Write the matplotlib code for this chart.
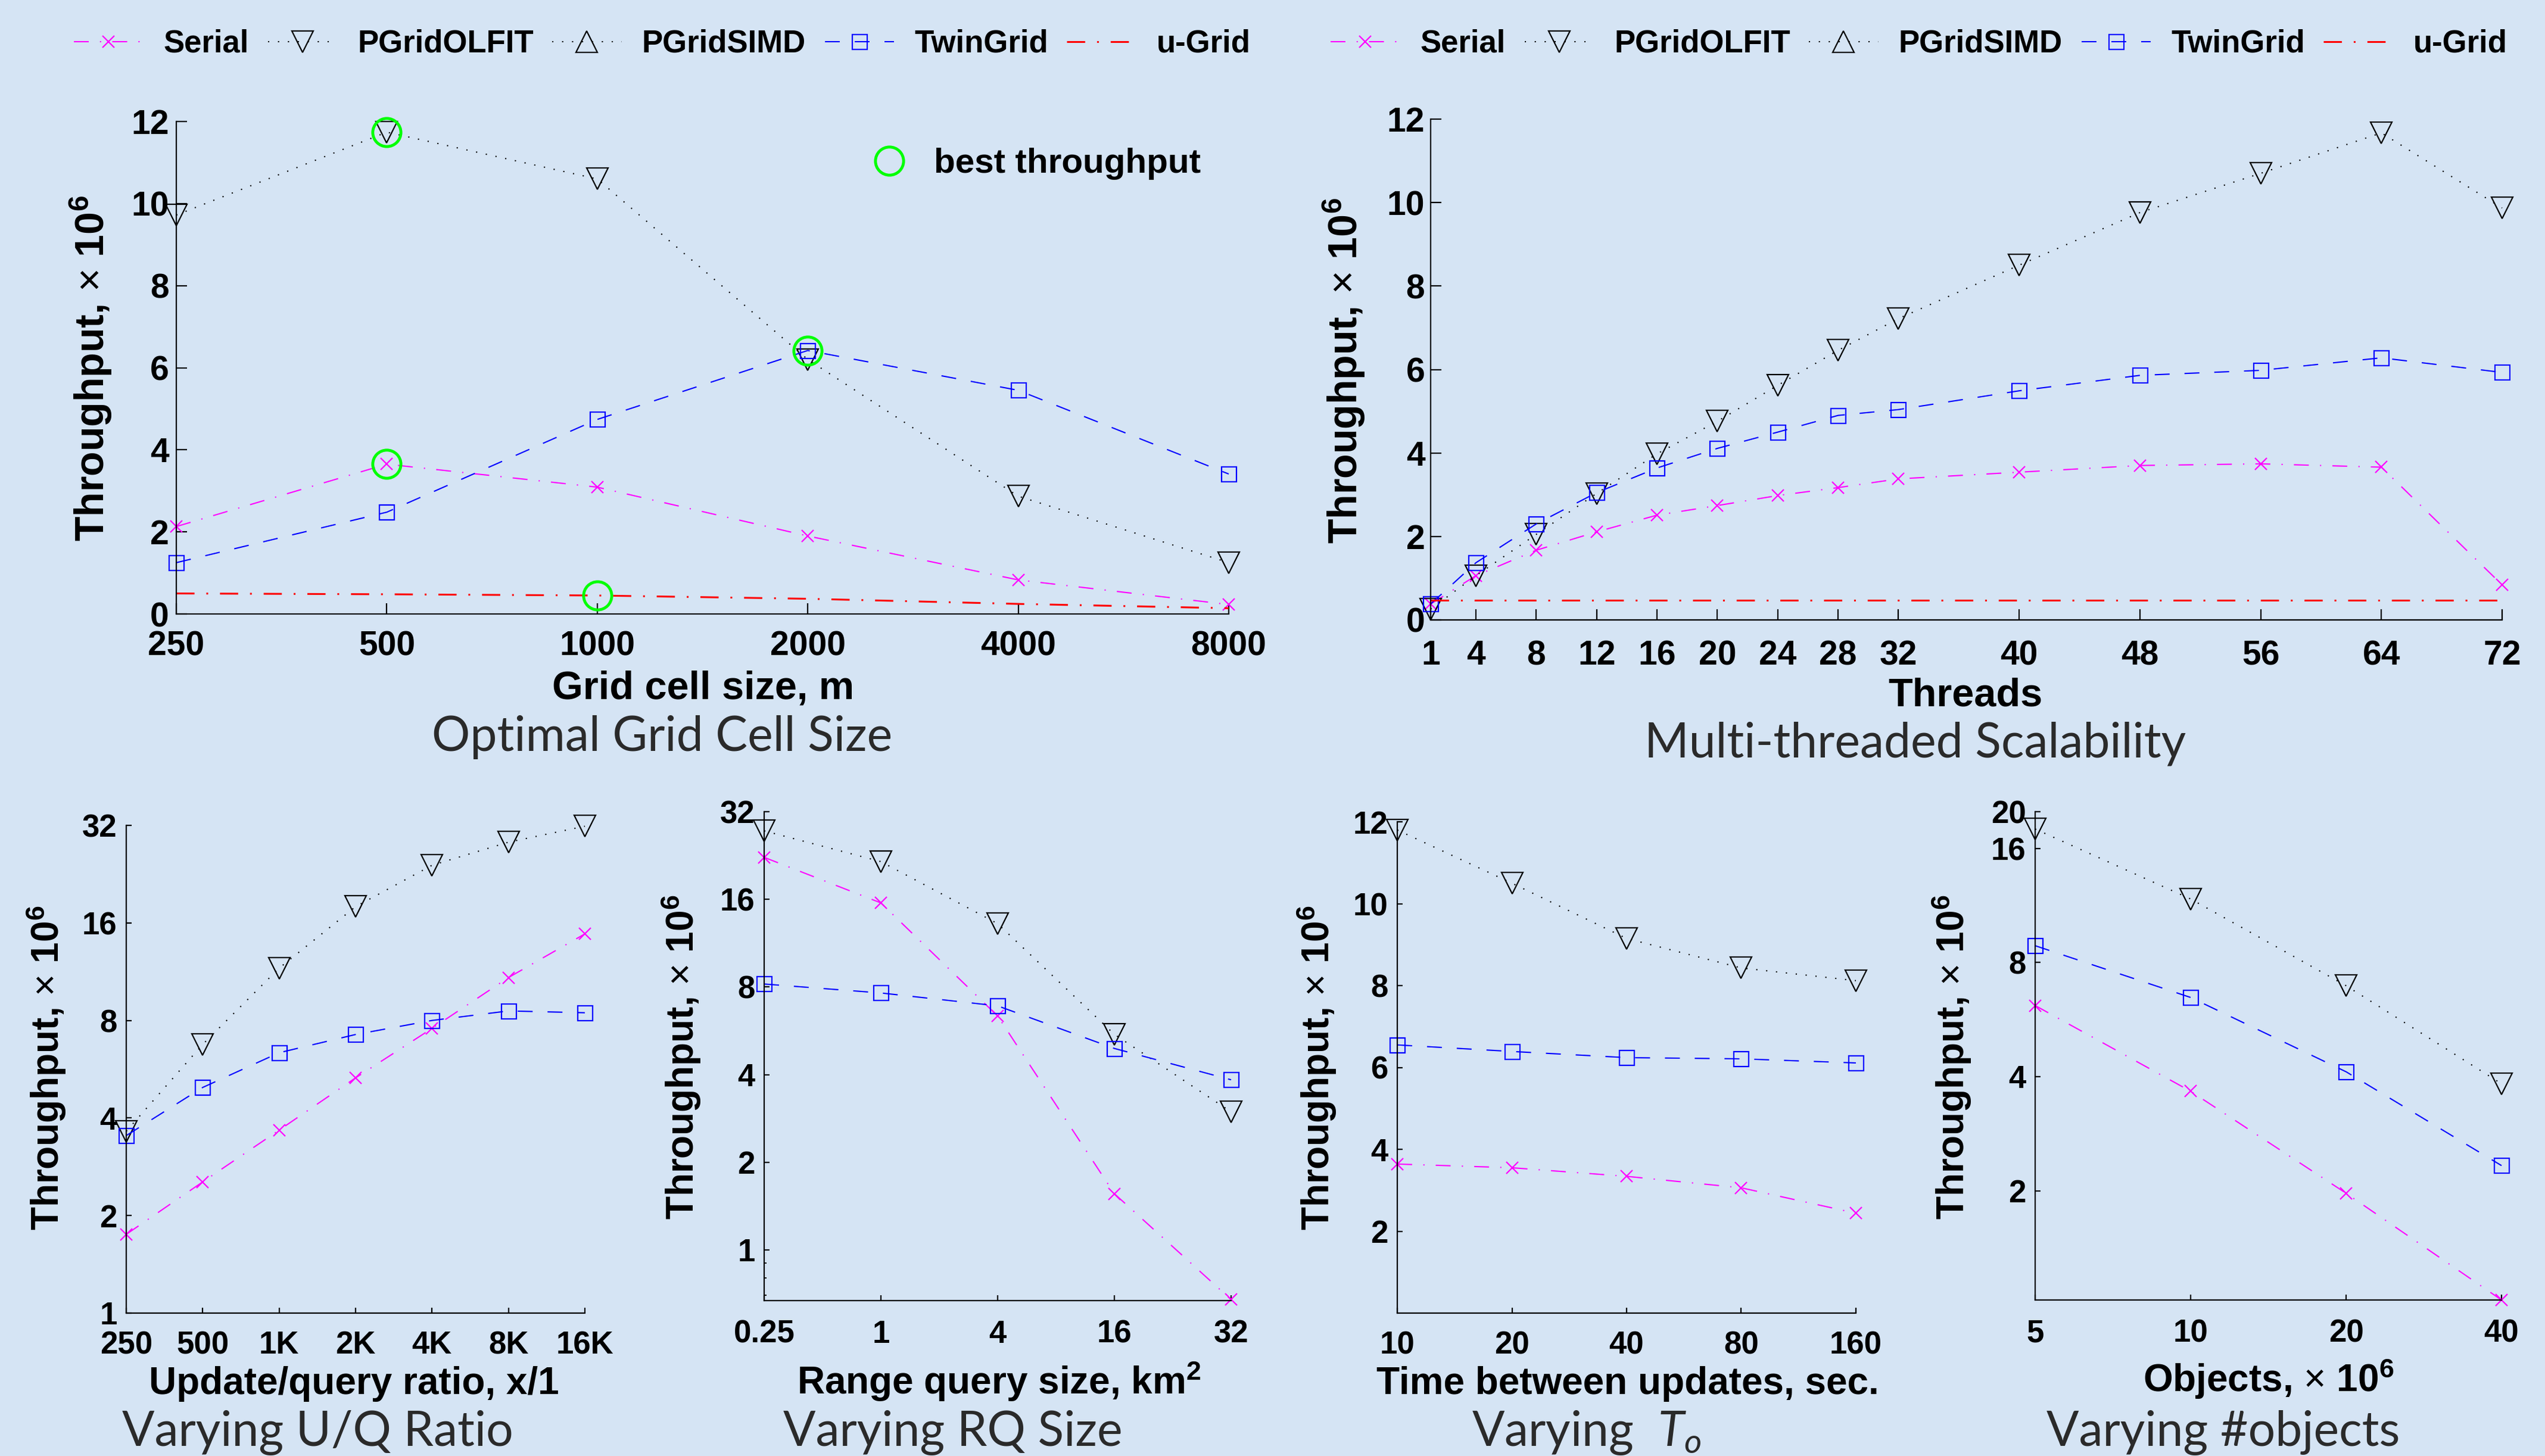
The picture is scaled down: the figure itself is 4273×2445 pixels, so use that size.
import numpy as np
import matplotlib.pyplot as plt
from matplotlib.ticker import FixedLocator, NullLocator, NullFormatter

plt.rcParams['font.family'] = ['Liberation Sans', 'DejaVu Sans']
plt.rcParams['font.weight'] = 'bold'
plt.rcParams['mathtext.fontset'] = 'custom'
plt.rcParams['mathtext.rm'] = 'Liberation Sans:weight=normal'
plt.rcParams['mathtext.bf'] = 'Liberation Sans:weight=bold'
plt.rcParams['mathtext.it'] = 'Lato:style=italic:weight=normal'

# =========================
# DATA (throughput, x 10^6)
# =========================
series_names = ['Serial', 'PGridOLFIT', 'PGridSIMD', 'TwinGrid', 'u-Grid']

cell_sizes = [250, 500, 1000, 2000, 4000, 8000]
cell_serial = [2.13, 3.65, 3.09, 1.90, 0.83, 0.23]
cell_olfit = [9.72, 11.74, 10.60, 6.20, 2.87, 1.25]
cell_twin = [1.25, 2.48, 4.74, 6.42, 5.45, 3.41]
cell_ugrid = [0.50, 0.48, 0.45, 0.37, 0.245, 0.14]
best_x = [500, 500, 2000, 1000]
best_y = [11.74, 3.65, 6.42, 0.45]

threads = [1, 4, 8, 12, 16, 20, 24, 28, 32, 40, 48, 56, 64, 72]
thr_serial = [0.38, 1.06, 1.67, 2.11, 2.51, 2.74, 2.98, 3.17, 3.38, 3.54, 3.70, 3.74, 3.66, 0.84]
thr_olfit = [0.26, 1.06, 2.05, 3.03, 3.98, 4.76, 5.62, 6.46, 7.22, 8.50, 9.76, 10.70, 11.67, 9.87]
thr_twin = [0.38, 1.37, 2.30, 3.05, 3.64, 4.11, 4.50, 4.90, 5.04, 5.49, 5.86, 5.98, 6.28, 5.93]
thr_ugrid = [0.47] * len(threads)

uq_ratio = [250, 500, 1000, 2000, 4000, 8000, 16000]
uq_labels = ['250', '500', '1K', '2K', '4K', '8K', '16K']
uq_serial = [1.75, 2.54, 3.67, 5.32, 7.56, 10.85, 14.8]
uq_olfit = [3.64, 6.75, 11.6, 17.96, 24.1, 28.4, 31.8]
uq_twin = [3.53, 4.97, 6.36, 7.24, 8.0, 8.56, 8.45]

rq_labels = ['0.25', '1', '4', '16', '32']
rq_serial = [22.3, 15.55, 6.36, 1.56, 0.675]
rq_olfit = [27.5, 21.56, 13.2, 5.5, 2.98]
rq_twin = [8.19, 7.63, 6.89, 4.92, 3.84]

to_secs = [10, 20, 40, 80, 160]
to_serial = [3.64, 3.55, 3.34, 3.06, 2.44]
to_olfit = [11.8, 10.5, 9.15, 8.43, 8.12]
to_twin = [6.55, 6.39, 6.24, 6.21, 6.11]

objects = [5, 10, 20, 40]
obj_serial = [6.16, 3.66, 1.97, 1.03]
obj_olfit = [18.0, 11.77, 6.95, 3.83]
obj_twin = [8.86, 6.47, 4.12, 2.33]

# =========================
# STYLES
# =========================
BG = '#d5e4f4'
W, H = 4273, 2445

STY = {
    'Serial': dict(color='#ff00ff', lw=1.5, ls=(0, (12, 9, 1, 9)), marker='x', ms=15, mew=1.6),
    'PGridOLFIT': dict(color='black', lw=1.5, ls=(0, (1, 7)), marker='v', ms=26, mfc='none', mew=1.6),
    'PGridSIMD': dict(color='black', lw=1.5, ls=(0, (1, 7)), marker='^', ms=26, mfc='none', mew=1.6),
    'TwinGrid': dict(color='#0000ff', lw=1.5, ls=(0, (12, 12)), marker='s', ms=18, mfc='none', mew=1.6),
    'u-Grid': dict(color='#ff0000', lw=2.2, ls=(0, (10, 6.5, 1, 6.5))),
}


def box(l, t, r, b):
    return [l / W, 1 - b / H, (r - l) / W, (b - t) / H]


def ftext(x, y, s, **kw):
    fig.text(x / W, 1 - y / H, s, **kw)


def plot_series(ax, x, data):
    handles = []
    for name in series_names:
        xs, ys = (x, data[name]) if name in data else ([], [])
        h, = ax.plot(xs, ys, label=name, clip_on=False, **STY[name])
        handles.append(h)
    return handles


def style_axes(ax, fs, tick_len, padx, pady):
    ax.set_facecolor(BG)
    for s in ['top', 'right']:
        ax.spines[s].set_visible(False)
    for s in ['left', 'bottom']:
        ax.spines[s].set_linewidth(1.6)
    ax.tick_params(which='major', direction='in', length=tick_len, width=1.6, labelsize=fs)
    ax.tick_params(axis='x', pad=padx)
    ax.tick_params(axis='y', pad=pady)


def set_log2(axis):
    axis.set_minor_locator(NullLocator())
    axis.set_minor_formatter(NullFormatter())


fig = plt.figure(figsize=(W / 100, H / 100), dpi=100, facecolor=BG)

YLAB = r'Throughput, $\times$ 10$^{\mathbf{6}}$'
SUB = dict(family=['Lato', 'DejaVu Sans'], fontweight='normal', color='#2a2a2a', fontsize=58,
           ha='center', va='baseline')

# =========================
# TOP LEFT: grid cell size
# =========================
ax1 = fig.add_axes(box(296, 204, 2063, 1031))
hs1 = plot_series(ax1, cell_sizes, {'Serial': cell_serial, 'PGridOLFIT': cell_olfit,
                                    'TwinGrid': cell_twin, 'u-Grid': cell_ugrid})
best, = ax1.plot(best_x, best_y, ls='none', marker='o', ms=34, mfc='none', mec='#00ff00',
                 mew=3.5, clip_on=False, zorder=5)
ax1.set_xscale('log', base=2)
set_log2(ax1.xaxis)
ax1.set_xlim(250, 8000)
ax1.set_ylim(0, 12)
ax1.set_xticks(cell_sizes)
ax1.set_xticklabels([str(c) for c in cell_sizes])
ax1.set_yticks(range(0, 13, 2))
style_axes(ax1, 41, 13, 20, 9)
ax1.legend([best], ['best throughput'], loc='center', bbox_to_anchor=(1740 / W, 1 - 275 / H),
           bbox_transform=fig.transFigure, frameon=False, fontsize=42, handlelength=1.0,
           handletextpad=0.8)
ftext(153, 619, YLAB, fontsize=49, rotation=90, ha='center', va='center')
ftext(1181, 1173, 'Grid cell size, m', fontsize=48, ha='center', va='baseline')
ftext(1112, 1261, 'Optimal Grid Cell Size', **SUB)

# =========================
# TOP RIGHT: threads
# =========================
ax2 = fig.add_axes(box(2402, 200, 4201, 1041))
hs2 = plot_series(ax2, threads, {'Serial': thr_serial, 'PGridOLFIT': thr_olfit,
                                 'TwinGrid': thr_twin, 'u-Grid': thr_ugrid})
ax2.set_xlim(1, 72)
ax2.set_ylim(0, 12)
ax2.set_xticks(threads)
ax2.set_yticks(range(0, 13, 2))
style_axes(ax2, 41, 13, 24, 7)
ftext(2257, 623, YLAB, fontsize=49, rotation=90, ha='center', va='center')
ftext(3300, 1186, 'Threads', fontsize=48, ha='center', va='baseline')
ftext(3216, 1272, 'Multi-threaded Scalability', **SUB)

leg_kw = dict(loc='center', ncol=5, frameon=False, fontsize=38, handlelength=2.2,
              handletextpad=0.65, columnspacing=0.6)
fig.legend(hs1, series_names, bbox_to_anchor=(1112 / W, 1 - 74 / H), **leg_kw)
fig.legend(hs2, series_names, bbox_to_anchor=(3222 / W, 1 - 74 / H), **leg_kw)

# =========================
# BOTTOM ROW
# =========================
# U/Q ratio
ax3 = fig.add_axes(box(212, 1386, 982, 2205))
plot_series(ax3, uq_ratio, {'Serial': uq_serial, 'PGridOLFIT': uq_olfit, 'TwinGrid': uq_twin})
ax3.set_xscale('log', base=2)
ax3.set_yscale('log', base=2)
set_log2(ax3.xaxis)
set_log2(ax3.yaxis)
ax3.set_xlim(250, 16000)
ax3.set_ylim(1, 32)
ax3.set_xticks(uq_ratio)
ax3.set_xticklabels(uq_labels)
ax3.set_yticks([1, 2, 4, 8, 16, 32])
ax3.set_yticklabels(['1', '2', '4', '8', '16', '32'])
style_axes(ax3, 38, 6.5, 21, 11)
ftext(78, 1793, YLAB, fontsize=46, rotation=90, ha='center', va='center')
ftext(594, 2341, 'Update/query ratio, x/1', fontsize=46, ha='center', va='baseline')
ftext(533, 2428, 'Varying U/Q Ratio', **SUB)

# Range query size (equally spaced categories)
ax4 = fig.add_axes(box(1283, 1363, 2067, 2184))
rq_pos = np.arange(len(rq_labels))
plot_series(ax4, rq_pos, {'Serial': rq_serial, 'PGridOLFIT': rq_olfit, 'TwinGrid': rq_twin})
ax4.set_yscale('log', base=2)
ax4.set_xlim(0, len(rq_labels) - 1)
ax4.set_ylim(0.67, 32)
ax4.set_xticks(rq_pos)
ax4.set_xticklabels(rq_labels)
ax4.set_yticks([1, 2, 4, 8, 16, 32])
ax4.set_yticklabels(['1', '2', '4', '8', '16', '32'])
ax4.yaxis.set_minor_locator(FixedLocator([0.7, 0.8, 0.9]))
ax4.yaxis.set_minor_formatter(NullFormatter())
style_axes(ax4, 38, 6.5, 23, 11)
ax4.tick_params(which='minor', direction='in', length=3, width=1.4)
ftext(1144, 1775, YLAB, fontsize=46, rotation=90, ha='center', va='center')
ftext(1677, 2341, r'Range query size, km$^{\mathbf{2}}$', fontsize=46, ha='center', va='baseline')
ftext(1600, 2428, 'Varying RQ Size', **SUB)

# Time between updates
ax5 = fig.add_axes(box(2346, 1380, 3116, 2205))
plot_series(ax5, to_secs, {'Serial': to_serial, 'PGridOLFIT': to_olfit, 'TwinGrid': to_twin})
ax5.set_xscale('log', base=2)
set_log2(ax5.xaxis)
ax5.set_xlim(10, 160)
ax5.set_ylim(0, 12)
ax5.set_xticks(to_secs)
ax5.set_xticklabels([str(t) for t in to_secs])
ax5.set_yticks(range(2, 13, 2))
style_axes(ax5, 38, 6.5, 21, 11)
ftext(2211, 1793, YLAB, fontsize=46, rotation=90, ha='center', va='center')
ftext(2733, 2341, 'Time between updates, sec.', fontsize=46, ha='center', va='baseline')
ftext(2664, 2428, r'Varying  $T_o$', **SUB)

# Number of objects
ax6 = fig.add_axes(box(3417, 1363, 4200, 2183))
plot_series(ax6, objects, {'Serial': obj_serial, 'PGridOLFIT': obj_olfit, 'TwinGrid': obj_twin})
ax6.set_xscale('log', base=2)
ax6.set_yscale('log', base=2)
set_log2(ax6.xaxis)
set_log2(ax6.yaxis)
ax6.set_xlim(5, 40)
ax6.set_ylim(1.03, 20)
ax6.set_xticks(objects)
ax6.set_xticklabels([str(o) for o in objects])
ax6.set_yticks([2, 4, 8, 16, 20])
ax6.set_yticklabels(['2', '4', '8', '16', '20'])
style_axes(ax6, 38, 6.5, 23, 11)
ftext(3277, 1775, YLAB, fontsize=46, rotation=90, ha='center', va='center')
ftext(3809, 2337, r'Objects, $\times$ 10$^{\mathbf{6}}$', fontsize=46, ha='center', va='baseline')
ftext(3733, 2428, 'Varying #objects', **SUB)

fig.savefig('out.png', dpi=100, facecolor=BG)
